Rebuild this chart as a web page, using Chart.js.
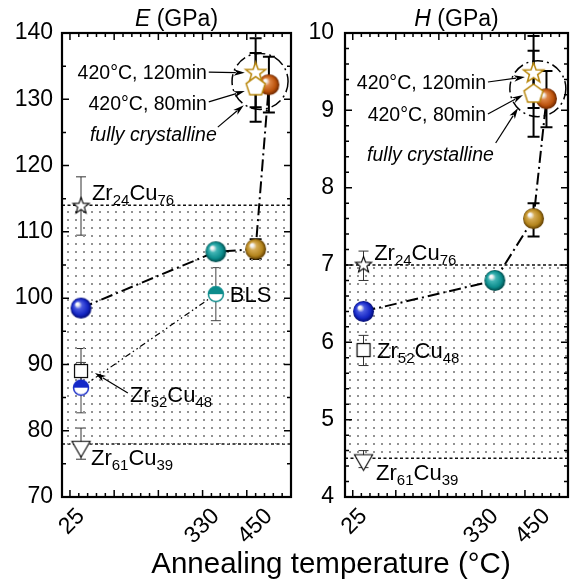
<!DOCTYPE html>
<html>
<head>
<meta charset="utf-8">
<script src="https://cdn.jsdelivr.net/npm/chart.js@4.4.0/dist/chart.umd.min.js"></script>
<style>
html, body { margin:0; padding:0; width:571px; height:584px; overflow:hidden; background:#fff; }
#wrap { position:relative; width:571px; height:584px; overflow:hidden; }
#cE { position:absolute; left:0; top:0; }
#cH { position:absolute; left:290px; top:0; }
</style>
</head>
<body>
<div id="wrap">
<canvas id="cE" width="571" height="584"></canvas>
<canvas id="cH" width="290" height="584"></canvas>
</div>
<script>
var FONT = '"Liberation Sans", Arial, sans-serif';
Chart.defaults.font.family = FONT;
Chart.defaults.color = '#000';

// ---- data ----
var tempTicks = [25, 330, 450];
var annealT = [25, 330, 420, 450];
var isoT = [420, 420];          // 420 °C, 120 min / 80 min
var blsT = [25, 330];
var refT = [25, 25, 25];
var refNames = ['Zr24Cu76', 'Zr52Cu48', 'Zr61Cu39'];

var eAnneal   = [98.5, 107.0, 107.4, 132.2];
var eAnnealLo = [null, null, 105.9, 128.0];
var eAnnealHi = [null, null, 108.9, 136.4];
var eIso   = [134.0, 131.9];
var eIsoLo = [128.8, 126.6];
var eIsoHi = [137.0, 139.2];
var eBls   = [86.5, 100.6];
var eBlsLo = [82.7, 96.6];
var eBlsHi = [90.3, 104.6];
var eRef   = [113.9, 89.0, 77.6];
var eRefLo = [109.5, 85.7, 75.7];
var eRefHi = [118.3, 92.4, 80.4];
var eBand  = [78, 114];
var eAxis  = [70, 140, 10, 5];     // min, max, major, minor

var hAnneal   = [6.4, 6.8, 7.6, 9.15];
var hAnnealLo = [null, null, 7.37, 8.78];
var hAnnealHi = [null, null, 7.80, 9.51];
var hIso   = [9.48, 9.21];
var hIsoLo = [9.03, 8.66];
var hIsoHi = [9.77, 9.96];
var hRef   = [7.0, 5.9, 4.48];
var hRefLo = [6.80, 5.70, 4.38];
var hRefHi = [7.18, 6.09, 4.60];
var hBand  = [4.5, 7.0];
var hAxis  = [4, 10, 1, 0.2];

var xAxis = [-18, 500, 100, 20];

function pts(xs, ys) { return xs.map(function (v, i) { return {x: v, y: ys[i]}; }); }

// ---- marker images ----
function mk(s) { var c = document.createElement('canvas'); c.width = c.height = s; return c; }
function ball(base, light, dark) {
  var r = 10.5, c = mk(23), g = c.getContext('2d'), m = 11.5;
  var gr = g.createRadialGradient(m - 0.4 * r, m - 0.42 * r, 0.3, m, m, r);
  gr.addColorStop(0, '#ffffff');
  gr.addColorStop(0.12, '#f4f4f4');
  gr.addColorStop(0.35, light);
  gr.addColorStop(0.75, base);
  gr.addColorStop(1, dark);
  g.fillStyle = gr; g.beginPath(); g.arc(m, m, r, 0, 2 * Math.PI); g.fill();
  return c;
}
function half(col) {
  var c = mk(20), g = c.getContext('2d'), m = 10, r = 7.5;
  g.fillStyle = '#fff'; g.beginPath(); g.arc(m, m, r, 0, 2 * Math.PI); g.fill();
  g.fillStyle = col; g.beginPath(); g.arc(m, m, r, Math.PI, 2 * Math.PI); g.closePath(); g.fill();
  g.strokeStyle = col; g.lineWidth = 1.5; g.beginPath(); g.arc(m, m, r, 0, 2 * Math.PI); g.stroke();
  return c;
}
function poly(n, R, ri, col, lw, rot) {
  var s = Math.ceil(2 * R + 4), c = mk(s), g = c.getContext('2d'), m = s / 2;
  g.beginPath();
  var k = ri ? 2 * n : n;
  for (var i = 0; i < k; i++) {
    var rr = ri && i % 2 ? ri : R, a = rot + i * 2 * Math.PI / k;
    g.lineTo(m + rr * Math.sin(a), m - rr * Math.cos(a));
  }
  g.closePath();
  g.fillStyle = '#fff'; g.fill();
  g.strokeStyle = col; g.lineWidth = lw; g.lineJoin = 'miter'; g.stroke();
  return c;
}
function square(col) {
  var c = mk(18), g = c.getContext('2d');
  g.fillStyle = '#fff'; g.fillRect(2.5, 2.5, 13, 13);
  g.strokeStyle = col; g.lineWidth = 1.2; g.strokeRect(2.5, 2.5, 13, 13);
  return c;
}

var balls = [ball('#1426c4', '#4a5ae0', '#020a70'), ball('#0c8c8c', '#40b4b4', '#004848'),
             ball('#b3841c', '#d4aa52', '#5e3c00'), ball('#bb520c', '#dc8444', '#6a2600')];
var halves = [half('#1428c8'), half('#0c8c8c')];
var gold = '#b8860b';
var isoImgs = [poly(5, 10.5, 4.3, gold, 1.5, 0), poly(5, 10, 0, gold, 1.5, 0)];
var refImgs = [poly(5, 8.5, 3.5, '#000', 1.1, 0), square('#000'), poly(3, 10.5, 0, '#000', 1.1, Math.PI)];

function dotPattern(ctx) {
  var c = mk(8), g = c.getContext('2d');
  g.fillStyle = '#929292'; g.fillRect(3, 3, 2, 2);
  return ctx.createPattern(c, 'repeat');
}

// ---- plugins ----
var errBars = {
  id: 'errBars',
  beforeDatasetsDraw: function (chart) {
    var ctx = chart.ctx, ys = chart.scales.y;
    chart.data.datasets.forEach(function (ds, i) {
      if (!ds.errLo) return;
      var meta = chart.getDatasetMeta(i);
      ctx.save();
      ctx.strokeStyle = ds.errColor; ctx.lineWidth = ds.errWidth;
      meta.data.forEach(function (p, j) {
        if (ds.errLo[j] == null) return;
        var y1 = ys.getPixelForValue(ds.errLo[j]), y2 = ys.getPixelForValue(ds.errHi[j]), w = ds.errCap;
        ctx.beginPath();
        ctx.moveTo(p.x, y1); ctx.lineTo(p.x, y2);
        ctx.moveTo(p.x - w, y1); ctx.lineTo(p.x + w, y1);
        ctx.moveTo(p.x - w, y2); ctx.lineTo(p.x + w, y2);
        ctx.stroke();
      });
      ctx.restore();
    });
  }
};

function arrow(ctx, x1, y1, x2, y2) {
  var a = Math.atan2(y2 - y1, x2 - x1), L = 11, W = 3.2;
  var bx = x2 - L * Math.cos(a), by = y2 - L * Math.sin(a);
  ctx.beginPath(); ctx.moveTo(x1, y1); ctx.lineTo(bx + 2 * Math.cos(a), by + 2 * Math.sin(a)); ctx.stroke();
  ctx.beginPath(); ctx.moveTo(x2, y2);
  ctx.lineTo(bx - W * Math.sin(a), by + W * Math.cos(a));
  ctx.lineTo(bx + 3 * Math.cos(a), by + 3 * Math.sin(a));
  ctx.lineTo(bx + W * Math.sin(a), by - W * Math.cos(a));
  ctx.closePath(); ctx.fill();
}

function chem(ctx, str, x, y, size) {
  var parts = str.match(/\d+|\D+/g), sub = Math.round(size * 0.68), cx = x;
  var base = y + 0.358 * size;
  parts.forEach(function (p) {
    var isSub = /^\d+$/.test(p);
    ctx.font = (isSub ? sub : size) + 'px ' + FONT;
    ctx.fillText(p, cx, isSub ? base + 5 : base);
    cx += ctx.measureText(p).width;
  });
}

var notes = {
  id: 'notes',
  afterDatasetsDraw: function (chart, args, o) {
    var ctx = chart.ctx, a = chart.chartArea, xs = chart.scales.x, ys = chart.scales.y;
    var px = function (v) { return xs.getPixelForValue(v); }, py = function (v) { return ys.getPixelForValue(v); };
    ctx.save();
    // dash-dot ring round the 420/450 °C points
    var ring = chart.getDatasetMeta(o.isoIndex).data.slice();
    var an = chart.getDatasetMeta(o.annealIndex).data;
    ring.push(an[an.length - 1]);
    var cx = 0, cy = 0;
    ring.forEach(function (p) { cx += p.x / ring.length; cy += p.y / ring.length; });
    ctx.strokeStyle = '#000'; ctx.lineWidth = 1.5; ctx.setLineDash([11, 4, 2, 4]);
    ctx.beginPath(); ctx.arc(cx, cy, 28, 0, 2 * Math.PI); ctx.stroke();
    ctx.setLineDash([]);

    ctx.fillStyle = '#000'; ctx.strokeStyle = '#000'; ctx.lineWidth = 1.2;
    ctx.textAlign = 'left'; ctx.textBaseline = 'alphabetic';
    o.labels.forEach(function (l) {
      chem(ctx, l.t, px(l.x), py(l.y), 22);
      if (l.from) arrow(ctx, px(l.from[0]), py(l.from[1]), px(l.to[0]), py(l.to[1]));
    });
    o.notes.forEach(function (n) {
      ctx.font = (n.it ? 'italic ' : '') + '19.5px ' + FONT;
      ctx.textAlign = 'right';
      ctx.fillText(n.t, px(n.x), py(n.y) + 0.358 * 19.5);
      arrow(ctx, px(n.from[0]), py(n.from[1]), px(n.to[0]), py(n.to[1]));
    });

    // panel title, italic symbol + unit
    ctx.textAlign = 'left';
    ctx.font = 'italic 23px ' + FONT;
    var w1 = ctx.measureText(o.sym).width;
    ctx.font = '23px ' + FONT;
    var w2 = ctx.measureText(' (GPa)').width;
    var tx = (a.left + a.right) / 2 - (w1 + w2) / 2;
    ctx.font = 'italic 23px ' + FONT; ctx.fillText(o.sym, tx, 26);
    ctx.font = '23px ' + FONT; ctx.fillText(' (GPa)', tx + w1, 26);

    if (o.xTitle) {
      ctx.font = '29.5px ' + FONT; ctx.textAlign = 'center';
      ctx.fillText(o.xTitle, 331, 573);
    }
    ctx.restore();
  }
};

var frame = {
  id: 'frame',
  afterDraw: function (chart, args, o) {
    var ctx = chart.ctx, a = chart.chartArea, xs = chart.scales.x, ys = chart.scales.y;
    ctx.save();
    ctx.strokeStyle = '#000'; ctx.lineWidth = 1.5;
    function marks(ax, rng, horiz) {
      var ratio = Math.round(rng[2] / rng[3]);
      for (var i = Math.ceil(rng[0] / rng[3] - 1e-9); i * rng[3] <= rng[1] + 1e-9; i++) {
        var p = ax.getPixelForValue(i * rng[3]), L = i % ratio === 0 ? 7 : 4;
        ctx.beginPath();
        if (horiz) {
          ctx.moveTo(p, a.bottom); ctx.lineTo(p, a.bottom - L);
          ctx.moveTo(p, a.top); ctx.lineTo(p, a.top + L);
        } else {
          ctx.moveTo(a.left, p); ctx.lineTo(a.left + L, p);
          ctx.moveTo(a.right, p); ctx.lineTo(a.right - L, p);
        }
        ctx.stroke();
      }
    }
    marks(xs, o.x, true);
    marks(ys, o.y, false);
    ctx.lineWidth = 2.2;
    ctx.strokeRect(a.left, a.top, a.right - a.left, a.bottom - a.top);
    ctx.restore();
  }
};

function scales(yr, yW, yPad) {
  return {
    x: {
      type: 'linear', min: xAxis[0], max: xAxis[1],
      grid: {display: false, drawTicks: false}, border: {display: false},
      afterBuildTicks: function (s) { s.ticks = tempTicks.map(function (v) { return {value: v}; }); },
      afterFit: function (s) { s.height = 87; },
      ticks: {autoSkip: false, minRotation: 45, maxRotation: 45, padding: 6, color: '#000',
        font: {size: 23}, callback: function (v) { return String(v); }}
    },
    y: {
      type: 'linear', min: yr[0], max: yr[1],
      grid: {display: false, drawTicks: false}, border: {display: false},
      afterFit: function (s) { s.width = yW; },
      ticks: {stepSize: yr[2], autoSkip: false, padding: yPad, color: '#000', font: {size: 23}}
    }
  };
}

function bands(b, pat) {
  return [
    {data: pts([xAxis[0], xAxis[1]], [b[0], b[0]]), showLine: true, borderColor: '#111', borderWidth: 1.5,
      borderDash: [3, 2.5], pointRadius: 0, fill: false, order: 10},
    {data: pts([xAxis[0], xAxis[1]], [b[1], b[1]]), showLine: true, borderColor: '#111', borderWidth: 1.5,
      borderDash: [3, 2.5], pointRadius: 0, fill: '-1', backgroundColor: pat, order: 9}
  ];
}
function img(arr) { return function (c) { return arr[c.dataIndex]; }; }

// ---- E panel ----
var ctxE = document.getElementById('cE').getContext('2d');
var dsE = bands(eBand, dotPattern(ctxE)).concat([
  {data: pts(annealT, eAnneal), showLine: true, borderColor: '#000', borderWidth: 2, borderDash: [12, 4, 2, 4],
    pointStyle: img(balls), pointRadius: 10, errLo: eAnnealLo, errHi: eAnnealHi, errColor: '#000', errWidth: 2, errCap: 6, order: 3},
  {data: pts(blsT, eBls), showLine: true, borderColor: '#000', borderWidth: 1.2, borderDash: [6, 3, 1.5, 3, 1.5, 3],
    pointStyle: img(halves), pointRadius: 8, errLo: eBlsLo, errHi: eBlsHi, errColor: '#444', errWidth: 1, errCap: 5, order: 4},
  {data: pts(refT, eRef), pointStyle: img(refImgs), pointRadius: 8,
    errLo: eRefLo, errHi: eRefHi, errColor: '#333', errWidth: 1, errCap: 5, order: 5},
  {data: pts(isoT, eIso), pointStyle: img(isoImgs), pointRadius: 10,
    errLo: eIsoLo, errHi: eIsoHi, errColor: '#000', errWidth: 2, errCap: 6, order: 2}
]);

new Chart(ctxE, {
  type: 'scatter',
  data: {datasets: dsE},
  options: {
    responsive: false, animation: false, devicePixelRatio: 1,
    layout: {padding: {top: 33, right: 280, left: 0, bottom: 0}},
    scales: scales(eAxis, 62, 9),
    plugins: {
      legend: {display: false}, tooltip: {enabled: false},
      frame: {x: xAxis, y: eAxis},
      notes: {
        sym: 'E', isoIndex: 5, annealIndex: 2, xTitle: 'Annealing temperature (°C)',
        labels: [
          {t: refNames[0], x: 49.7, y: 116.0},
          {t: refNames[1], x: 135.6, y: 85.5, from: [131, 85.7], to: [56.5, 88.7]},
          {t: refNames[2], x: 47.5, y: 76.0},
          {t: 'BLS', x: 361.6, y: 100.6}
        ],
        notes: [
          {t: '420°C, 120min', x: 309.6, y: 134.1, from: [314, 134.1], to: [395.5, 134.0]},
          {t: '420°C, 80min', x: 309.6, y: 129.5, from: [314, 129.6], to: [395.5, 131.25]},
          {t: 'fully crystalline', it: true, x: 332, y: 124.8, from: [334.5, 125.8], to: [393.2, 129.1]}
        ]
      }
    }
  },
  plugins: [errBars, notes, frame]
});

// ---- H panel ----
var ctxH = document.getElementById('cH').getContext('2d');
var dsH = bands(hBand, dotPattern(ctxH)).concat([
  {data: pts(annealT, hAnneal), showLine: true, borderColor: '#000', borderWidth: 2, borderDash: [12, 4, 2, 4],
    pointStyle: img(balls), pointRadius: 10, errLo: hAnnealLo, errHi: hAnnealHi, errColor: '#000', errWidth: 2, errCap: 6, order: 3},
  {data: pts(refT, hRef), pointStyle: img(refImgs), pointRadius: 8,
    errLo: hRefLo, errHi: hRefHi, errColor: '#333', errWidth: 1, errCap: 5, order: 5},
  {data: pts(isoT, hIso), pointStyle: img(isoImgs), pointRadius: 10,
    errLo: hIsoLo, errHi: hIsoHi, errColor: '#000', errWidth: 2, errCap: 6, order: 2}
]);

new Chart(ctxH, {
  type: 'scatter',
  data: {datasets: dsH},
  options: {
    responsive: false, animation: false, devicePixelRatio: 1,
    layout: {padding: {top: 33, right: 6, left: 0, bottom: 0}},
    scales: scales(hAxis, 55, 11),
    plugins: {
      legend: {display: false}, tooltip: {enabled: false},
      frame: {x: xAxis, y: hAxis},
      notes: {
        sym: 'H', isoIndex: 4, annealIndex: 2,
        labels: [
          {t: refNames[0], x: 49.7, y: 7.17},
          {t: refNames[1], x: 56.5, y: 5.90},
          {t: refNames[2], x: 54.2, y: 4.32}
        ],
        notes: [
          {t: '420°C, 120min', x: 309.6, y: 9.36, from: [314, 9.366], to: [400, 9.431]},
          {t: '420°C, 80min', x: 309.6, y: 8.946, from: [314, 8.953], to: [395.5, 9.198]},
          {t: 'fully crystalline', it: true, x: 327.7, y: 8.435, from: [332, 8.578], to: [384, 9.03]}
        ]
      }
    }
  },
  plugins: [errBars, notes, frame]
});
</script>
</body>
</html>
